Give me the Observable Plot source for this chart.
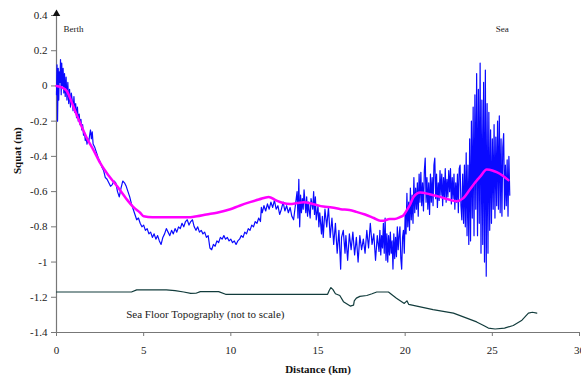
<!DOCTYPE html>
<html><head><meta charset="utf-8">
<script src="https://cdn.jsdelivr.net/npm/d3@7"></script>
<script src="https://cdn.jsdelivr.net/npm/@observablehq/plot@0.6"></script>
<style>body{margin:0;background:#fff}</style>
</head><body><div id="chart"></div>
<script>
const xTicks = [0, 5, 10, 15, 20, 25, 30];
const yTicks = [-1.4, -1.2, -1, -0.8, -0.6, -0.4, -0.2, 0, 0.2, 0.4];

// measured squat [km, m]
const measuredSquat = [
 [0,-0.05],[0.03,0.12],[0.06,-0.2],[0.1,0.1],[0.13,-0.08],[0.16,0.08],[0.2,0.02],[0.23,0.15],[0.27,-0.05],[0.3,0.13],
 [0.34,0.0],[0.38,0.1],[0.42,-0.04],[0.46,0.07],[0.5,-0.06],[0.55,0.05],[0.6,-0.08],[0.65,0.02],[0.7,-0.1],[0.75,-0.02],
 [0.8,-0.12],[0.85,-0.04],[0.9,-0.08],[0.95,-0.14],[1.0,-0.06],[1.05,-0.15],[1.1,-0.1],[1.15,-0.18],[1.2,-0.12],[1.25,-0.2],
 [1.3,-0.16],[1.35,-0.22],[1.4,-0.19],[1.45,-0.25],[1.5,-0.22],
 [1.55,-0.28],[1.6,-0.26],[1.65,-0.31],[1.7,-0.29],[1.75,-0.33],[1.8,-0.3],[1.85,-0.32],[1.9,-0.28],[1.95,-0.25],[2.0,-0.3],
 [2.05,-0.26],[2.1,-0.33],[2.2,-0.35],[2.3,-0.38],[2.4,-0.41],[2.5,-0.43],[2.6,-0.46],[2.7,-0.48],[2.8,-0.52],[2.9,-0.53],
 [3.0,-0.55],[3.1,-0.57],[3.2,-0.56],[3.3,-0.54],[3.4,-0.55],[3.5,-0.6],[3.6,-0.63],[3.7,-0.58],[3.8,-0.54],[3.9,-0.55],
 [4.0,-0.57],[4.1,-0.6],[4.2,-0.63],[4.3,-0.67],[4.4,-0.7],[4.5,-0.73],[4.6,-0.76],[4.7,-0.75],[4.8,-0.78],[4.9,-0.8],[5.0,-0.79],
 [5.1,-0.82],[5.2,-0.81],[5.3,-0.84],[5.4,-0.83],[5.5,-0.86],[5.6,-0.84],[5.7,-0.87],[5.8,-0.85],[5.9,-0.88],[6.0,-0.9],
 [6.1,-0.86],[6.2,-0.84],[6.3,-0.81],[6.4,-0.83],[6.5,-0.85],[6.6,-0.82],[6.7,-0.84],[6.8,-0.81],[6.9,-0.83],[7.0,-0.8],
 [7.1,-0.81],[7.2,-0.78],[7.3,-0.8],[7.4,-0.77],[7.5,-0.76],[7.6,-0.79],[7.7,-0.77],[7.8,-0.76],[7.9,-0.8],[8.0,-0.82],
 [8.1,-0.8],[8.2,-0.83],[8.3,-0.82],[8.4,-0.84],[8.5,-0.83],[8.6,-0.86],[8.7,-0.85],[8.8,-0.92],[8.9,-0.93],[9.0,-0.9],
 [9.1,-0.91],[9.2,-0.88],[9.3,-0.89],[9.4,-0.86],[9.5,-0.87],[9.6,-0.85],[9.7,-0.87],[9.8,-0.86],[9.9,-0.88],[10.0,-0.87],
 [10.1,-0.89],[10.2,-0.88],[10.3,-0.9],[10.4,-0.88],[10.5,-0.87],[10.6,-0.85],[10.7,-0.86],[10.8,-0.83],[10.9,-0.84],[11.0,-0.81],
 [11.1,-0.82],[11.2,-0.79],[11.3,-0.8],[11.4,-0.77],[11.5,-0.78],[11.6,-0.75],[11.7,-0.77],[11.75,-0.69],[11.8,-0.72],[11.9,-0.68],
 [12.0,-0.71],[12.1,-0.67],[12.2,-0.7],[12.3,-0.66],[12.4,-0.69],[12.5,-0.65],[12.6,-0.7],[12.7,-0.68],[12.8,-0.73],[12.9,-0.7],
 [13.0,-0.66],[13.1,-0.71],[13.2,-0.68],[13.3,-0.72],[13.4,-0.69],[13.5,-0.74],[13.6,-0.76],[13.7,-0.68],[13.8,-0.6],[13.85,-0.75],
 [13.9,-0.53],[13.95,-0.8],[14.0,-0.62],[14.05,-0.72],[14.1,-0.64],[14.15,-0.7],[14.2,-0.59],[14.3,-0.72],[14.35,-0.63],[14.4,-0.74],
 [14.45,-0.66],[14.5,-0.71],[14.55,-0.75],[14.6,-0.64],[14.7,-0.7],[14.75,-0.6],[14.8,-0.73],[14.85,-0.63],[14.9,-0.76],[15.0,-0.68],
 [15.05,-0.8],[15.1,-0.72],[15.2,-0.84],[15.25,-0.74],[15.3,-0.86],[15.4,-0.7],[15.5,-0.8],[15.6,-0.69],[15.7,-0.86],[15.8,-0.75],
 [15.9,-0.9],[16.0,-0.78],[16.1,-0.95],[16.2,-0.82],[16.3,-1.04],[16.35,-0.86],[16.45,-0.82],[16.55,-0.95],[16.6,-0.85],[16.7,-0.99],
 [16.8,-0.84],[16.9,-0.93],[17.0,-0.83],[17.1,-0.96],[17.2,-0.86],[17.3,-1.0],[17.4,-0.85],[17.5,-0.93],[17.6,-0.87],[17.7,-0.95],
 [17.8,-0.82],[17.9,-0.92],[18.0,-0.78],[18.1,-0.9],[18.2,-0.84],[18.3,-0.99],[18.4,-0.85],
 [18.5,-0.94],[18.55,-0.82],[18.6,-0.96],[18.65,-0.85],[18.7,-0.92],[18.75,-0.78],[18.8,-0.95],[18.85,-0.75],[18.9,-0.99],[18.95,-0.84],
 [19.0,-1.0],[19.05,-0.85],[19.1,-0.96],[19.15,-0.83],[19.2,-0.95],[19.25,-0.88],[19.3,-1.04],[19.35,-0.84],[19.4,-0.98],[19.45,-0.86],
 [19.5,-0.97],[19.55,-0.8],[19.6,-0.93],[19.65,-0.85],[19.7,-0.8],[19.75,-0.98],[19.8,-1.04],[19.85,-0.86],[19.9,-0.82],[19.95,-0.95],
 [20.0,-0.72],[20.05,-0.84],[20.1,-0.61],[20.15,-0.8],[20.2,-0.66],[20.25,-0.82],[20.3,-0.58],[20.35,-0.76],[20.4,-0.62],[20.45,-0.78],
 [20.5,-0.52],[20.55,-0.72],[20.6,-0.58],[20.65,-0.7],[20.7,-0.55],[20.75,-0.74],[20.8,-0.5],[20.85,-0.66],[20.9,-0.49],[20.95,-0.68],
 [21.0,-0.55],[21.05,-0.71],[21.1,-0.48],[21.15,-0.41],[21.2,-0.66],[21.25,-0.52],[21.3,-0.7],[21.35,-0.55],[21.4,-0.73],[21.45,-0.5],
 [21.5,-0.66],[21.55,-0.52],[21.6,-0.68],[21.65,-0.45],[21.7,-0.41],[21.75,-0.64],[21.8,-0.5],[21.85,-0.69],[21.9,-0.55],[21.95,-0.65],
 [22.0,-0.48],[22.05,-0.62],[22.1,-0.5],[22.15,-0.68],[22.2,-0.52],[22.25,-0.64],[22.3,-0.47],[22.35,-0.66],[22.4,-0.53],[22.45,-0.63],
 [22.5,-0.48],[22.55,-0.6],[22.6,-0.47],[22.65,-0.67],[22.7,-0.52],[22.75,-0.64],[22.8,-0.5],[22.85,-0.7],[22.9,-0.55],[22.95,-0.66],
 [23.0,-0.5],[23.05,-0.72],[23.1,-0.47],[23.15,-0.45],[23.2,-0.68],[23.25,-0.76],[23.3,-0.5],[23.35,-0.78],
 [23.4,-0.45],[23.45,-0.8],[23.5,-0.38],[23.55,-0.85],[23.6,-0.45],[23.65,-0.9],[23.7,-0.3],[23.75,-0.88],
 [23.8,-0.2],[23.85,-0.75],[23.9,-0.12],[23.95,-0.85],[24.0,-0.05],[24.05,-0.7],[24.1,0.07],[24.15,-0.85],[24.2,-0.02],[24.25,-0.78],
 [24.3,0.13],[24.35,-0.95],[24.4,-0.08],[24.45,-0.9],[24.5,0.02],[24.55,-1.0],[24.6,0.09],[24.65,-1.08],[24.7,-0.1],[24.75,-0.95],
 [24.8,-0.15],[24.85,-0.82],[24.9,-0.25],[24.95,-0.78],[25.0,-0.3],[25.05,-0.7],[25.1,-0.22],[25.15,-0.75],[25.2,-0.29],[25.25,-0.68],
 [25.3,-0.2],[25.35,-0.7],[25.4,-0.17],[25.45,-0.72],[25.5,-0.3],[25.55,-0.74],[25.6,-0.35],[25.65,-0.27],[25.7,-0.7],[25.75,-0.45],
 [25.8,-0.68],[25.85,-0.42],[25.9,-0.74],[25.95,-0.4],[26.0,-0.62]
];

// smoothed squat [km, m]
const smoothedSquat = [
 [0,0],[0.33,-0.01],[0.6,-0.03],[0.9,-0.1],[1.1,-0.15],[1.4,-0.22],[1.76,-0.3],[2.1,-0.36],[2.52,-0.44],[3.0,-0.51],
 [3.48,-0.57],[4.0,-0.64],[4.43,-0.69],[4.8,-0.72],[5.0,-0.74],[5.5,-0.745],[6.34,-0.745],[7.0,-0.745],[7.68,-0.745],[8.06,-0.74],
 [8.6,-0.73],[9.2,-0.72],[9.97,-0.7],[10.5,-0.68],[11.1,-0.66],[11.6,-0.645],[12.17,-0.63],[12.6,-0.65],[13.0,-0.665],[13.4,-0.67],
 [13.8,-0.665],[14.17,-0.66],[14.7,-0.67],[15.3,-0.685],[15.8,-0.69],[16.3,-0.7],[16.8,-0.705],[17.2,-0.715],[17.7,-0.73],[18.2,-0.75],
 [18.57,-0.765],[18.76,-0.765],[19.1,-0.755],[19.4,-0.755],[19.7,-0.745],[19.9,-0.735],[20.1,-0.705],[20.3,-0.67],[20.48,-0.63],[20.86,-0.605],
 [21.4,-0.615],[22.0,-0.63],[22.5,-0.645],[22.96,-0.655],[23.3,-0.64],[23.7,-0.59],[24.0,-0.55],[24.3,-0.515],[24.68,-0.475],[25.0,-0.48],
 [25.25,-0.49],[25.6,-0.51],[25.92,-0.535]
];

// sea floor topography (not to scale) [km, m]
const seaFloor = [
 [0,-1.17],[4.3,-1.17],[4.6,-1.158],[6.3,-1.158],[6.8,-1.162],[7.3,-1.17],[7.7,-1.178],[8.0,-1.177],[8.25,-1.168],[9.3,-1.168],
 [9.7,-1.183],[15.55,-1.183],[15.65,-1.16],[15.74,-1.145],[15.85,-1.155],[16.0,-1.18],[16.25,-1.19],[16.46,-1.225],[16.85,-1.25],[17.04,-1.245],
 [17.08,-1.22],[17.2,-1.205],[17.4,-1.195],[17.8,-1.19],[18.1,-1.18],[18.37,-1.17],[19.04,-1.17],[19.5,-1.205],[19.95,-1.235],[20.1,-1.22],
 [20.2,-1.24],[21.6,-1.27],[22.77,-1.29],[24.1,-1.34],[24.5,-1.36],[24.77,-1.375],[25.16,-1.38],[25.7,-1.375],[26.2,-1.36],[26.7,-1.33],
 [27.07,-1.29],[27.3,-1.285],[27.55,-1.29]
];

const fmt = d => String(+(+d).toFixed(1));
const yTop = yTicks[yTicks.length - 1];

const chart = Plot.plot({
  width: 581, height: 378,
  marginLeft: 56, marginRight: 2, marginTop: 15, marginBottom: 46,
  style: {fontFamily: "'Liberation Serif', 'Times New Roman', serif", fontSize: "11px", color: "#222", background: "#fff", overflow: "visible"},
  x: {domain: [0, 30]},
  y: {domain: [-1.4, 0.4]},
  marks: [
    Plot.axisY({ticks: yTicks, tickSize: 5, tickPadding: 4, label: null, tickFormat: fmt, stroke: "#777", fill: "#222", fontSize: 11}),
    Plot.axisX({ticks: xTicks, tickSize: 4, tickPadding: 10, label: null, tickFormat: fmt, stroke: "#777", fill: "#222", fontSize: 11}),
    Plot.ruleX([0], {y1: -1.4, y2: yTop + 0.01, stroke: "#777", strokeWidth: 1.2}),
    Plot.ruleY([-1.4], {x1: 0, x2: 30, stroke: "#777", strokeWidth: 1.2}),
    Plot.dot([yTop], {x: () => 0, y: d => d + 0.01, symbol: "triangle", r: 2.8, fill: "#111", stroke: "none"}),
    Plot.line(seaFloor, {x: d => d[0], y: d => d[1], stroke: "#123c3c", strokeWidth: 1.2}),
    Plot.line(measuredSquat, {x: d => d[0], y: d => d[1], stroke: "#0a0aff", strokeWidth: 1.2}),
    Plot.line(smoothedSquat, {x: d => d[0], y: d => d[1], stroke: "#ff00ff", strokeWidth: 2.5, curve: "monotone-x"}),
    Plot.text(["Berth"], {x: 0.4, y: 0.32, textAnchor: "start", fontSize: 9, fill: "#222"}),
    Plot.text(["Sea"], {x: 25.2, y: 0.32, textAnchor: "start", fontSize: 9, fill: "#222"}),
    Plot.text(["Sea Floor Topography (not to scale)"], {x: 4.0, y: -1.3, textAnchor: "start", fontSize: 11, fill: "#222"}),
    Plot.text(["Distance (km)"], {frameAnchor: "bottom", dy: 40, fontWeight: "bold", fontSize: 11, fill: "#111"}),
    Plot.text(["Squat (m)"], {frameAnchor: "left", dx: -39, rotate: -90, fontWeight: "bold", fontSize: 11, fill: "#111"})
  ]
});
document.getElementById("chart").append(chart);
</script>
</body></html>
